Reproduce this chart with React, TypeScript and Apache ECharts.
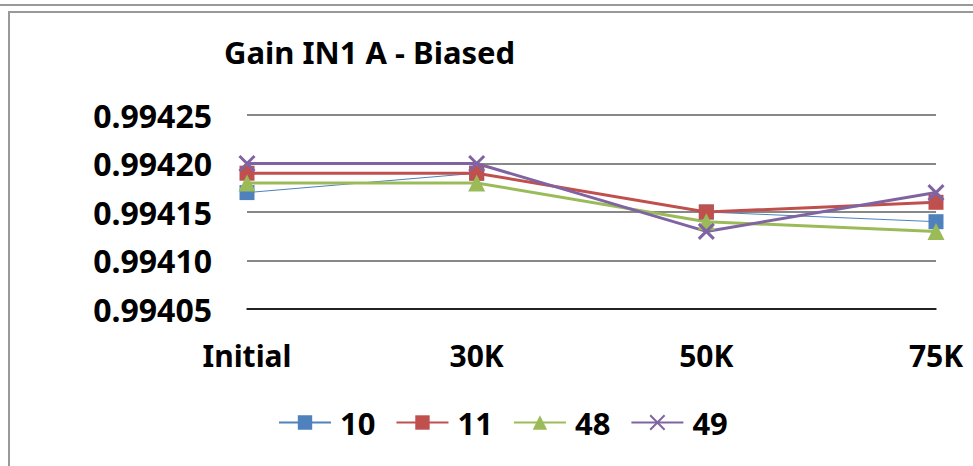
import React, { useEffect, useRef } from "react";
import * as echarts from "echarts";

const categories = ["Initial", "30K", "50K", "75K"];
const seriesNames = ["10", "11", "48", "49"];
const s10 = [0.99417, 0.99419, 0.99415, 0.99414];
const s11 = [0.99419, 0.99419, 0.99415, 0.99416];
const s48 = [0.99418, 0.99418, 0.99414, 0.99413];
const s49 = [0.9942, 0.9942, 0.99413, 0.99417];
const yMin = 0.99405;
const yMax = 0.99425;
const yStep = 0.00005;

const FONT = "'Noto Sans', 'Open Sans', sans-serif";

export default function App() {
  const ref = useRef<HTMLDivElement>(null);
  useEffect(() => {
    if (!ref.current) return;
    const chart = echarts.init(ref.current, undefined, { renderer: "svg" });
    const colors = ["#4F81BD", "#C0504D", "#9BBB59", "#8064A2"];
    const data = [s10, s11, s48, s49];
    const symbols = ["rect", "rect", "triangle", "path://M0,0 L10,10 M10,0 L0,10"];
    const symbolSizes = [15, 15, 17, 15];
    const widths = [1, 3, 3, 3];
    chart.setOption({
      animation: false,
      textStyle: { fontFamily: FONT },
      title: {
        text: "Gain IN1 A - Biased",
        left: 219,
        top: 31,
        textStyle: { fontFamily: FONT, fontWeight: "bold", fontSize: 31, color: "#000" },
      },
      graphic: [
        { type: "line", shape: { x1: 0, y1: 5, x2: 973, y2: 5 }, style: { stroke: "#999", lineWidth: 2 } },
        { type: "rect", shape: { x: 9, y: 12, width: 1000, height: 500 }, style: { fill: "none", stroke: "#999", lineWidth: 2 } },
      ],
      legend: {
        top: 402,
        left: 273,
        itemWidth: 52,
        itemHeight: 18,
        itemGap: 20,
        textStyle: { fontFamily: FONT, fontWeight: "bold", fontSize: 31, color: "#000", padding: [0, 0, 0, 4] },
        data: seriesNames,
      },
      grid: { left: 247, right: 37, top: 115, bottom: 157, containLabel: false },
      xAxis: {
        type: "category",
        data: categories,
        boundaryGap: false,
        axisLine: { lineStyle: { color: "#000", width: 1.5 } },
        axisTick: { show: false },
        axisLabel: {
          fontFamily: FONT,
          fontWeight: "bold",
          fontSize: 30,
          color: "#000",
          margin: 31,
        },
      },
      yAxis: {
        type: "value",
        min: yMin,
        max: yMax,
        interval: yStep,
        axisLine: { show: false },
        axisTick: { show: false },
        splitLine: { lineStyle: { color: "#888", width: 2 } },
        axisLabel: {
          fontFamily: FONT,
          fontWeight: "bold",
          fontSize: 32,
          color: "#000",
          margin: 35,
          formatter: (v: number) => v.toFixed(5),
        },
      },
      series: seriesNames.map((name, i) => ({
        name,
        type: "line",
        data: data[i],
        symbol: symbols[i],
        symbolSize: symbolSizes[i],
        showAllSymbol: true,
        color: colors[i],
        lineStyle: { color: colors[i], width: widths[i] },
        itemStyle: i === 3 ? { color: "none", borderColor: colors[i], borderWidth: 3 } : { color: colors[i] },
      })),
    });
    return () => chart.dispose();
  }, []);
  return (
    <div
      ref={ref}
      style={{ position: "absolute", left: 0, top: 0, width: 973, height: 466 }}
    />
  );
}
